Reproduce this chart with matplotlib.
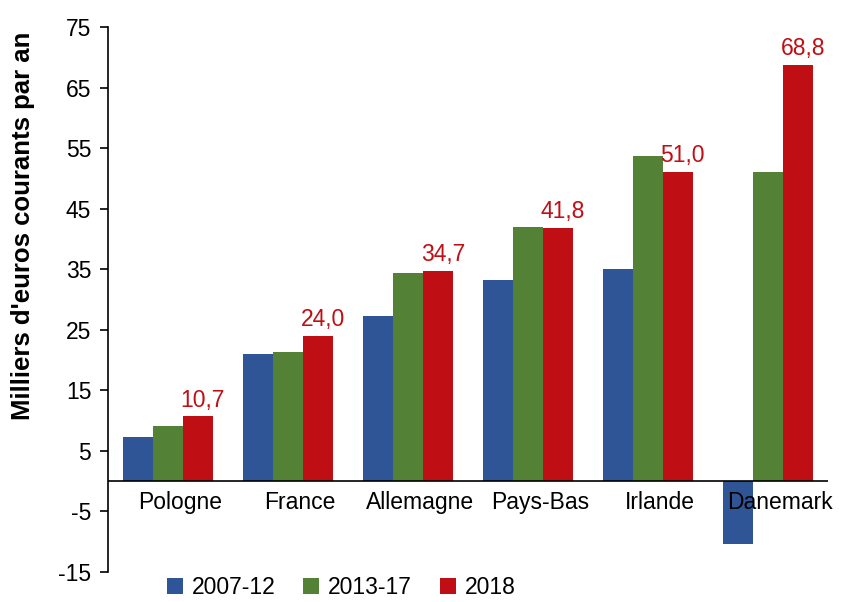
import matplotlib.pyplot as plt
import matplotlib.transforms as mtransforms
import numpy as np

plt.rcParams['font.family'] = ['Liberation Sans', 'DejaVu Sans']
plt.rcParams['axes.unicode_minus'] = False

pays = ['Pologne', 'France', 'Allemagne', 'Pays-Bas', 'Irlande', 'Danemark']
v_2007_12 = [7.3, 21.0, 27.2, 33.3, 35.1, -10.4]
v_2013_17 = [9.1, 21.3, 34.3, 42.0, 53.7, 51.0]
v_2018 = [10.7, 24.0, 34.7, 41.8, 51.0, 68.8]
series = ['2007-12', '2013-17', '2018']
colors = ['#2F5597', '#538135', '#C00F14']

fig = plt.figure(figsize=(8.42, 6.02), dpi=100)
ax = fig.add_axes([108/842, 30/602, 720/842, 545/602])

x = np.arange(len(pays))
w = 0.25
for i, (vals, lab, c) in enumerate(zip([v_2007_12, v_2013_17, v_2018], series, colors)):
    ax.bar(x + (i - 1) * w, vals, w, color=c, label=lab, zorder=2)

# labels on the 2018 bars
for xi, v in zip(x, v_2018):
    ax.text(xi + w + 0.04, v + 0.8, f'{v:.1f}'.replace('.', ','), ha='center', va='bottom',
            color='#C00F14', fontsize=16.5)

ax.set_xlim(-0.5, 5.5)
ax.set_ylim(-15, 75)
ax.set_yticks(np.arange(-15, 76, 10))
ax.axhline(0, color='black', lw=1.2, zorder=3)
for s in ['top', 'right', 'bottom']:
    ax.spines[s].set_visible(False)
ax.spines['left'].set_linewidth(1.2)
ax.tick_params(axis='y', labelsize=16.5, length=6, width=1.2, direction='out', pad=6)
ax.set_xticks([])

# category names just under the zero line
off = mtransforms.ScaledTranslation(0.12, -0.1, fig.dpi_scale_trans)
for xi, p in zip(x, pays):
    ax.text(xi, 0, p, ha='center', va='top', fontsize=16.5, zorder=4,
            transform=ax.transData + off)

ax.set_ylabel("Milliers d'euros courants par an", fontsize=18.5, fontweight='bold')
ax.yaxis.set_label_coords(-0.102, 0.635)

fig.legend(loc='lower left', bbox_to_anchor=(146/842, -0.03), ncol=3, frameon=False,
           fontsize=16.5, handlelength=0.7, handleheight=0.7, handletextpad=0.4,
           columnspacing=1.2)

fig.savefig('out.png', dpi=100)
